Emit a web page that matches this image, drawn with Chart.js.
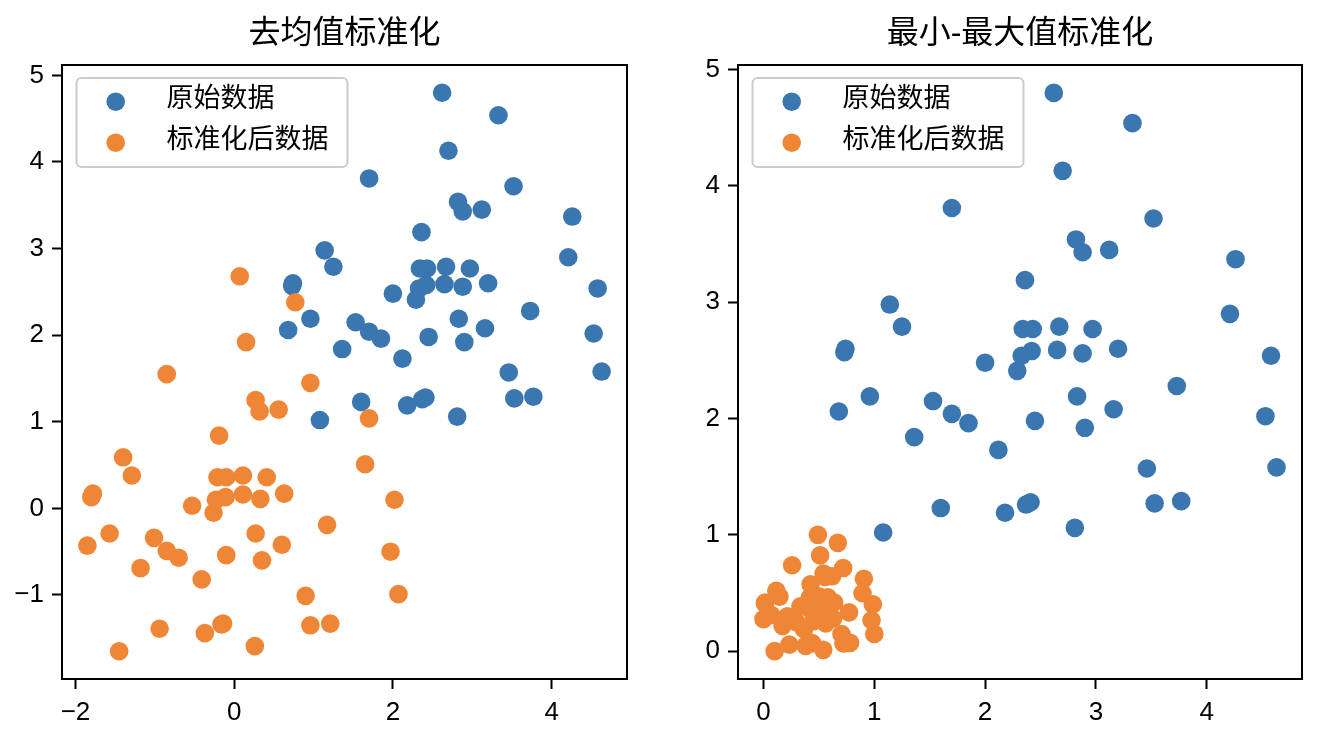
<!DOCTYPE html>
<html>
<head>
<meta charset="utf-8">
<script src="https://cdn.jsdelivr.net/npm/chart.js@4.4.0/dist/chart.umd.min.js"></script>
<style>
  html, body { margin: 0; padding: 0; background: #fff; }
  #wrap { position: relative; width: 1318px; height: 734px; }
  .box { position: absolute; top: 0; width: 659px; height: 734px; }
</style>
</head>
<body>
<div id="wrap">
  <div class="box" style="left:0"><canvas id="c1" width="659" height="734"></canvas></div>
  <div class="box" style="left:659px"><canvas id="c2" width="659" height="734"></canvas></div>
</div>
<script>
// Original data
const rawX = [2.62, 3.33, 2.70, 1.70, 3.52, 2.82, 2.88, 3.12, 4.26, 2.36,
              1.14, 4.21, 1.25, 2.34, 2.43, 2.67, 2.97, 0.73, 0.74, 2.33,
              2.42, 2.65, 2.88, 3.20, 4.58, 2.00, 2.29, 3.73, 2.83, 3.16,
              2.45, 2.90, 4.53, 3.46, 4.63, 2.37, 2.41, 3.53, 3.77, 2.81,
              0.68, 0.96, 1.53, 1.70, 1.85, 1.36, 2.12, 1.60, 2.18, 1.08];
const rawY = [4.80, 4.54, 4.13, 3.81, 3.72, 3.54, 3.43, 3.45, 3.37, 3.19,
              2.98, 2.90, 2.79, 2.77, 2.77, 2.79, 2.77, 2.57, 2.60, 2.54,
              2.58, 2.59, 2.56, 2.60, 2.54, 2.48, 2.41, 2.28, 2.19, 2.08,
              1.98, 1.92, 2.02, 1.57, 1.58, 1.26, 1.28, 1.27, 1.29, 1.06,
              2.06, 2.19, 2.15, 2.04, 1.96, 1.84, 1.73, 1.23, 1.19, 1.02];

// Mean-removal standardized data (left panel)
const stdX = [0.07, 0.77, 0.15, -0.85, 0.96, 0.27, 0.32, 0.56, -0.19, -1.40,
              -1.29, -1.80, -1.78, -0.21, -0.10, 0.11, 0.41, 0.63, -0.23, -0.11,
              0.11, 0.33, -0.53, -0.26, -1.85, -1.57, -1.01, -0.85, -0.70, -1.18,
              -0.41, -0.10, 0.27, 0.35, 0.60, 1.17, 0.90, 0.96, 1.21, -0.94,
              -0.37, -0.16, -0.14, -1.45, 0.26, 1.70, 1.65, 2.02, 1.97, 2.07];
const stdY = [2.68, 2.38, 1.92, 1.55, 1.45, 1.25, 1.12, 1.14, 0.84, 0.59,
              0.38, 0.13, 0.17, 0.36, 0.36, 0.38, 0.36, 0.17, 0.10, 0.13,
              0.16, 0.11, 0.03, -0.05, -0.43, -0.29, -0.34, -0.49, -0.57, -0.69,
              -0.82, -0.54, -0.29, -0.60, -0.42, -0.19, -1.01, -1.35, -1.33, -1.39,
              -1.44, -1.34, -1.33, -1.65, -1.59, 1.04, 0.51, 0.10, -0.50, -0.99];

// Min-max scaled data (right panel)
const mmX = [0.491, 0.671, 0.511, 0.258, 0.719, 0.542, 0.557, 0.618, 0.906, 0.425,
             0.116, 0.894, 0.144, 0.420, 0.443, 0.504, 0.580, 0.013, 0.015, 0.418,
             0.441, 0.499, 0.557, 0.638, 0.987, 0.334, 0.408, 0.772, 0.544, 0.628,
             0.448, 0.562, 0.975, 0.704, 1.000, 0.428, 0.438, 0.722, 0.782, 0.539,
             0.000, 0.071, 0.215, 0.258, 0.296, 0.172, 0.365, 0.233, 0.380, 0.101];
const mmY = [1.000, 0.931, 0.823, 0.738, 0.714, 0.667, 0.638, 0.643, 0.622, 0.574,
             0.519, 0.497, 0.468, 0.463, 0.463, 0.468, 0.463, 0.410, 0.418, 0.402,
             0.413, 0.415, 0.407, 0.418, 0.402, 0.386, 0.368, 0.333, 0.310, 0.280,
             0.254, 0.238, 0.265, 0.146, 0.148, 0.063, 0.069, 0.066, 0.071, 0.011,
             0.275, 0.310, 0.299, 0.270, 0.249, 0.217, 0.188, 0.056, 0.045, 0.000];

const titles = ['去均值标准化', '最小-最大值标准化'];
const seriesNames = ['原始数据', '标准化后数据'];
const leftXTicks = [-2, 0, 2, 4];
const leftYTicks = [-1, 0, 1, 2, 3, 4, 5];
const rightXTicks = [0, 1, 2, 3, 4];
const rightYTicks = [0, 1, 2, 3, 4, 5];

const BLUE = '#3a76af';
const ORANGE = '#ef8636';
const FONT = '"Liberation Sans", Arial, "Noto Sans CJK SC", sans-serif';

function toPoints(xs, ys) {
    return xs.map((x, i) => ({ x: x, y: ys[i] }));
}

function fmt(v) {
    return v < 0 ? '\u2212' + Math.abs(v) : String(v);
}

// Draws the box round the axes and the legend inside it
const frameLegend = {
    id: 'frameLegend',
    afterDraw(chart) {
        const ctx = chart.ctx;
        const ca = chart.chartArea;
        ctx.save();
        ctx.strokeStyle = '#000';
        ctx.lineWidth = 2;
        ctx.strokeRect(ca.left, ca.top, ca.right - ca.left, ca.bottom - ca.top);

        // legend
        ctx.font = '27px ' + FONT;
        const labels = chart.data.datasets.map(d => d.label);
        const textW = Math.max(...labels.map(t => ctx.measureText(t).width));
        const fx = ca.left + 14.5, fy = ca.top + 13;
        const textX = ca.left + 104.5;
        const fw = textX + textW + 19 - fx, fh = 89;
        ctx.beginPath();
        ctx.roundRect(fx, fy, fw, fh, 5);
        ctx.fillStyle = 'rgba(255,255,255,0.8)';
        ctx.fill();
        ctx.strokeStyle = '#cccccc';
        ctx.lineWidth = 2;
        ctx.stroke();
        chart.data.datasets.forEach((d, i) => {
            const cy = ca.top + 36.7 + i * 41;
            ctx.beginPath();
            ctx.arc(ca.left + 53.7, cy, 9.3, 0, Math.PI * 2);
            ctx.fillStyle = d.backgroundColor;
            ctx.fill();
            ctx.fillStyle = '#000';
            ctx.textBaseline = 'middle';
            ctx.textAlign = 'left';
            ctx.fillText(d.label, textX, cy - 2);
        });
        ctx.restore();
    }
};

function makeChart(id, title, orig, scaled, xr, yr, xTicks, yTicks, yWidth, padRight) {
    const tickFont = { family: FONT, size: 26 };
    return new Chart(document.getElementById(id), {
        type: 'scatter',
        data: {
            datasets: [
                { label: seriesNames[0], data: orig, backgroundColor: BLUE, borderColor: BLUE, order: 1 },
                { label: seriesNames[1], data: scaled, backgroundColor: ORANGE, borderColor: ORANGE, order: 0 }
            ]
        },
        options: {
            responsive: false,
            animation: false,
            events: [],
            layout: { padding: { left: 0, right: padRight, top: 0, bottom: 0 } },
            elements: { point: { radius: 9.3, hoverRadius: 9.3, borderWidth: 0 } },
            plugins: {
                legend: { display: false },
                tooltip: { enabled: false },
                title: {
                    display: true,
                    text: title,
                    fullSize: false,
                    color: '#000',
                    font: { family: FONT, size: 32, weight: 'normal', lineHeight: 1.2 },
                    padding: { top: 15, bottom: 11.6 }
                }
            },
            scales: {
                x: {
                    type: 'linear',
                    min: xr[0], max: xr[1],
                    afterBuildTicks: a => { a.ticks = xTicks.map(v => ({ value: v })); },
                    afterFit: s => { s.height = 55; },
                    border: { display: false },
                    grid: { display: true, drawOnChartArea: false, drawTicks: true,
                            tickLength: 10, tickWidth: 2, tickColor: '#000' },
                    ticks: { color: '#000', font: tickFont, padding: 8, maxRotation: 0,
                             callback: v => fmt(v) }
                },
                y: {
                    type: 'linear',
                    min: yr[0], max: yr[1],
                    afterBuildTicks: a => { a.ticks = yTicks.map(v => ({ value: v })); },
                    afterFit: s => { s.width = yWidth; },
                    border: { display: false },
                    grid: { display: true, drawOnChartArea: false, drawTicks: true,
                            tickLength: 10, tickWidth: 2, tickColor: '#000' },
                    ticks: { color: '#000', font: tickFont, padding: 8,
                             callback: v => fmt(v) }
                }
            }
        },
        plugins: [frameLegend]
    });
}

makeChart('c1', titles[0], toPoints(rawX, rawY), toPoints(stdX, stdY),
          [-2.17, 4.95], [-1.97, 5.12], leftXTicks, leftYTicks, 62, 32);
makeChart('c2', titles[1], toPoints(rawX, rawY), toPoints(mmX, mmY),
          [-0.23, 4.86], [-0.24, 5.04], rightXTicks, rightYTicks, 79, 16);
</script>
</body>
</html>
